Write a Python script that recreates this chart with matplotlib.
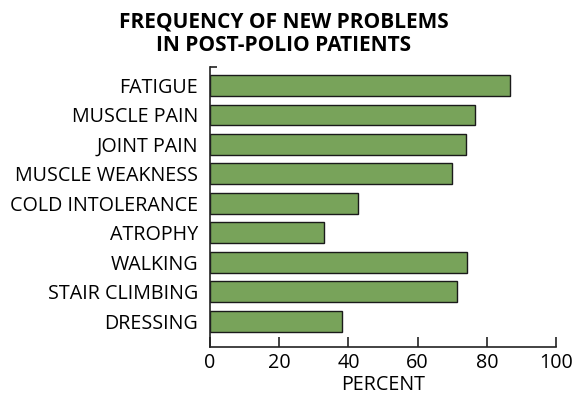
import matplotlib
matplotlib.use('Agg')
import matplotlib.pyplot as plt

categories = ['FATIGUE', 'MUSCLE PAIN', 'JOINT PAIN', 'MUSCLE WEAKNESS',
              'COLD INTOLERANCE', 'ATROPHY', 'WALKING', 'STAIR CLIMBING', 'DRESSING']
percent = [86.7, 76.6, 73.9, 70.0, 42.9, 33.0, 74.2, 71.5, 38.2]
xticks = [0, 20, 40, 60, 80, 100]

plt.rcParams['font.family'] = ['Open Sans', 'DejaVu Sans']

fig = plt.figure(figsize=(5.84, 3.94), dpi=100)
ax = fig.add_axes([210 / 584, 1 - 347 / 394, 346 / 584, 280.3 / 394])

pos = list(range(len(categories)))
ax.barh(pos, percent, height=0.71, color='#78a35a', edgecolor='#1a1a1a', linewidth=1.0)

ax.set_xlim(0, 100)
ax.set_ylim(8.88, -0.64)
ax.set_xticks(xticks)
ax.set_xticklabels([str(t) for t in xticks])
ax.set_yticks(pos)
ax.set_yticklabels(categories)
ax.set_yticks([-0.64], minor=True)

for s in ['top', 'right']:
    ax.spines[s].set_visible(False)
for s in ['left', 'bottom']:
    ax.spines[s].set_linewidth(1.2)
    ax.spines[s].set_color('#222222')

ax.tick_params(axis='x', direction='in', length=7.5, width=1.2, color='#222222', pad=4, labelsize=14.2)
ax.tick_params(axis='y', which='major', length=0, pad=8.5, labelsize=14.2)
ax.tick_params(axis='y', which='minor', direction='in', length=5, width=1.2, color='#222222')

ax.set_xlabel('PERCENT', fontsize=14.2, labelpad=2)

fig.text(284 / 584, 1 - 34 / 394, 'FREQUENCY OF NEW PROBLEMS\nIN POST-POLIO PATIENTS',
         ha='center', va='center', fontsize=15, fontweight='bold', linespacing=1.15)

fig.savefig('out.png', dpi=100)
